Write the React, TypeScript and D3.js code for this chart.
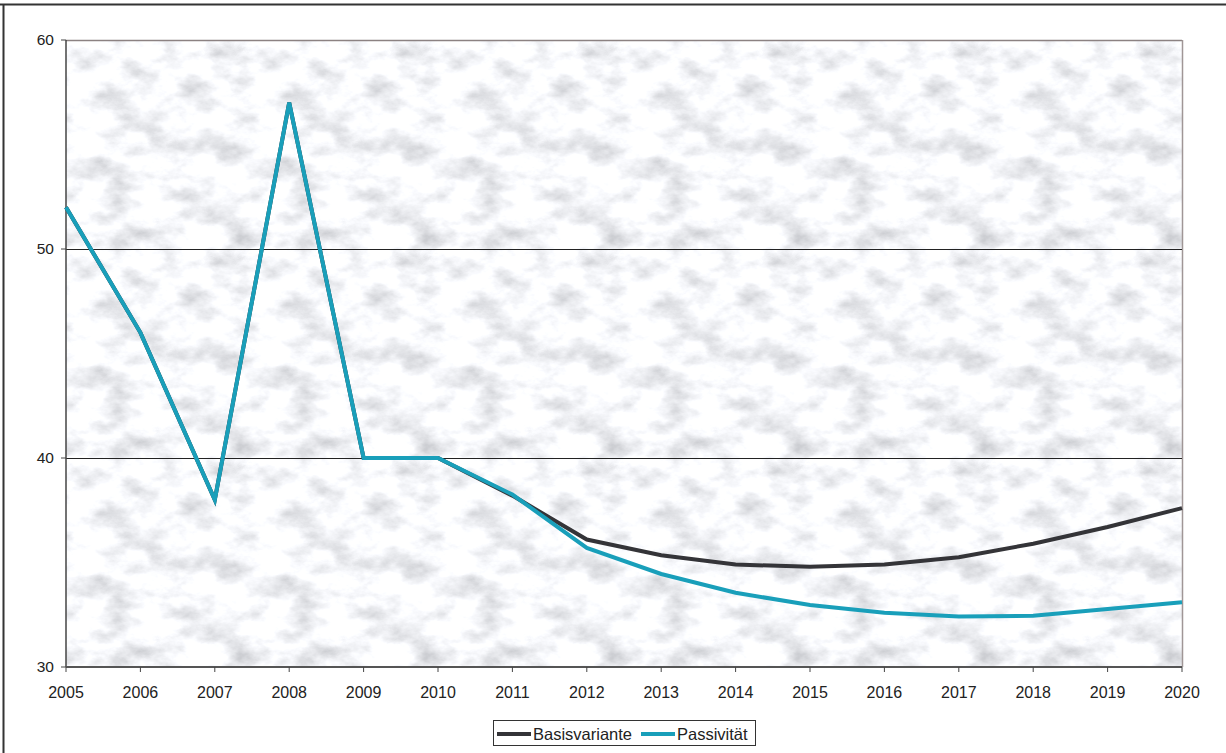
import React from "react";
import * as d3 from "d3";

const years = [2005, 2006, 2007, 2008, 2009, 2010, 2011, 2012, 2013, 2014, 2015, 2016, 2017, 2018, 2019, 2020];
const basisvariante = [52.0, 46.0, 38.0, 57.0, 40.0, 40.0, 38.2, 36.1, 35.35, 34.9, 34.8, 34.9, 35.25, 35.9, 36.7, 37.6];
const passivitaet = [52.0, 46.0, 38.0, 57.0, 40.0, 40.0, 38.25, 35.7, 34.45, 33.55, 32.97, 32.6, 32.42, 32.45, 32.78, 33.1];
const yTicks = [30, 40, 50, 60];
const seriesNames = ["Basisvariante", "Passivität"];
const seriesColors = ["#343438", "#199fba"];

export default function App() {
  const W = 1226, H = 753;
  const left = 66, right = 1182, top = 40, bottom = 667;
  const x = d3.scaleLinear().domain([2005, 2020]).range([left, right]);
  const y = d3.scaleLinear().domain([30, 60]).range([bottom, top]);
  const line = d3.line<number>().x((_, i) => x(years[i])).y((d) => y(d));
  const font = "Arial, 'Liberation Sans', Helvetica, sans-serif";
  const data = [basisvariante, passivitaet];
  const tileW = (right - left) / 6;
  const tileH = (bottom - top) / 3;

  return (
    <svg width={W} height={H} style={{ position: "absolute", left: 0, top: 0, background: "#fff" }} fontFamily={font}>
      <defs>
        <filter id="marble" x="0" y="0" width="100%" height="100%">
          <feTurbulence type="fractalNoise" baseFrequency="0.025 0.045" numOctaves={5} seed={7} stitchTiles="stitch" result="n" />
          <feColorMatrix in="n" type="matrix"
            values="0.95 0 0 0 0.46  0.95 0 0 0 0.47  0.95 0 0 0 0.50  0 0 0 0 1" />
        </filter>
        <pattern id="tile" patternUnits="userSpaceOnUse" x={left} y={top} width={tileW} height={tileH}>
          <rect width={tileW} height={tileH} fill="#e6e7ea" filter="url(#marble)" />
        </pattern>
      </defs>

      {/* outer frame */}
      <line x1={0} x2={W} y1={4.5} y2={4.5} stroke="#333" strokeWidth={2} />
      <line x1={3.5} x2={3.5} y1={4} y2={H} stroke="#333" strokeWidth={2} />

      {/* plot background */}
      <rect x={left} y={top} width={right - left} height={bottom - top} fill="url(#tile)" />
      <line x1={left} x2={right} y1={top + 0.5} y2={top + 0.5} stroke="#8c8282" strokeWidth={1.5} />
      <line x1={right + 0.5} x2={right + 0.5} y1={top} y2={bottom} stroke="#a09696" strokeWidth={1.5} />

      {/* gridlines */}
      {yTicks.filter((t) => t !== 30 && t !== 60).map((t) => (
        <line key={t} x1={left} x2={right} y1={Math.round(y(t)) + 0.5} y2={Math.round(y(t)) + 0.5} stroke="#222" strokeWidth={1} />
      ))}

      {/* axes */}
      <line x1={left} x2={left} y1={top} y2={bottom} stroke="#444" strokeWidth={1.5} />
      <line x1={left} x2={right} y1={bottom} y2={bottom} stroke="#555" strokeWidth={2} />
      {yTicks.map((t) => (
        <g key={t}>
          <line x1={left - 5} x2={left} y1={y(t)} y2={y(t)} stroke="#444" />
          <text x={54} y={y(t)} dy="0.35em" textAnchor="end" fontSize={15.5} fill="#222">{t}</text>
        </g>
      ))}
      {years.map((yr) => (
        <g key={yr}>
          <line x1={x(yr)} x2={x(yr)} y1={bottom} y2={bottom + 5} stroke="#444" />
          <text x={x(yr)} y={698} textAnchor="middle" fontSize={16} fill="#222">{yr}</text>
        </g>
      ))}

      {/* lines */}
      {data.map((d, i) => (
        <path key={i} d={line(d) || ""} fill="none" stroke={seriesColors[i]} strokeWidth={4} strokeLinejoin="miter" />
      ))}

      {/* legend */}
      <rect x={493.5} y={720.5} width={262} height={25} fill="#fff" stroke="#333" strokeWidth={1} />
      <line x1={497} x2={531} y1={734} y2={734} stroke={seriesColors[0]} strokeWidth={4} />
      <text x={533} y={740} fontSize={16.5} fill="#222">{seriesNames[0]}</text>
      <line x1={641} x2={675} y1={734} y2={734} stroke={seriesColors[1]} strokeWidth={4} />
      <text x={677} y={740} fontSize={16.5} fill="#222">{seriesNames[1]}</text>
    </svg>
  );
}
